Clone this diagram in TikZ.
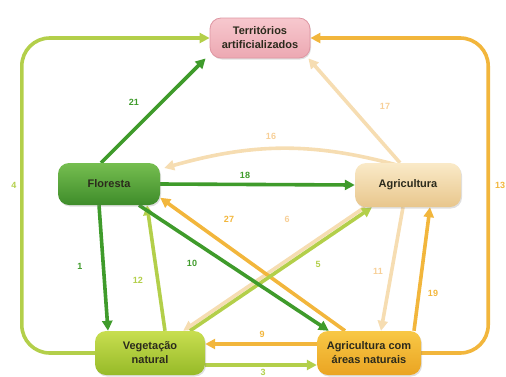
\documentclass[tikz,border=0pt]{standalone}
\usepackage{fontspec}
\setmainfont{Liberation Sans}
\usetikzlibrary{arrows.meta,shadows,backgrounds,calc}
\definecolor{dkgreen}{HTML}{3F9B2B}
\definecolor{ltgreen}{HTML}{B3CF4A}
\definecolor{orng}{HTML}{F2B63C}
\definecolor{beige}{HTML}{F6DDB2}
\definecolor{txt}{HTML}{2B2A1C}
\tikzset{
  box/.style={rounded corners=11pt, align=center, font=\fontsize{11}{14}\selectfont\bfseries, text=txt,
    inner sep=2pt, drop shadow={opacity=0.25, shadow xshift=1pt, shadow yshift=-1.5pt}},
  conn/.style={draw=#1, line width=3.6pt, -{Triangle[length=10pt,width=10pt]}},
  lbl/.style={text=#1, font=\fontsize{9}{10}\selectfont\bfseries, inner sep=0pt},
}
\begin{document}
\begin{tikzpicture}[x=1pt,y=-1pt]
\useasboundingbox (0,0) rectangle (506,376);
% nodes
\node[box, minimum width=100, minimum height=40,
  draw={rgb,255:red,222;green,150;blue,162}, line width=0.8pt, top color={rgb,255:red,247;green,200;blue,206}, bottom color={rgb,255:red,236;green,168;blue,178}]
  (terr) at (260,38) {Territórios\\artificializados};
\node[box, minimum width=102, minimum height=42, top color={rgb,255:red,118;green,190;blue,80}, bottom color={rgb,255:red,62;green,140;blue,42}]
  (flor) at (109,184) {Floresta};
\node[box, minimum width=106, minimum height=44, top color={rgb,255:red,250;green,234;blue,200}, bottom color={rgb,255:red,232;green,198;blue,140}]
  (agr) at (408,185) {Agricultura};
\node[box, minimum width=110, minimum height=44, top color={rgb,255:red,200;green,222;blue,80}, bottom color={rgb,255:red,150;green,186;blue,40}]
  (veg) at (150,353) {Vegetação\\natural};
\node[box, minimum width=104, minimum height=44, top color={rgb,255:red,248;green,200;blue,70}, bottom color={rgb,255:red,234;green,164;blue,34}]
  (agn) at (369,353) {Agricultura com\\áreas naturais};
% connectors
\begin{scope}[on background layer]
\draw[conn=ltgreen, rounded corners=28pt] (veg.west) -- ++(-73,0) |- (terr.west);
\draw[conn=orng, rounded corners=28pt] (agn.east) -- ++(67,0) |- (terr.east);
\draw[conn=beige] ([xshift=-8]agr.north) -- ([xshift=-2]terr.south east);
\draw[conn=beige] ([xshift=-50,yshift=16]agr.east) to[bend right=16] ([xshift=4,yshift=16]flor.east);
\draw[conn=beige] ([xshift=10]agr.south west) -- ([xshift=-22]veg.north east);
\draw[conn=beige] ([xshift=-5]agr.south) -- ([xshift=12]agn.north);
\draw[conn=orng] ([xshift=-24]agn.north) -- (flor.-15);
\draw[conn=orng] ([xshift=45]agn.north) -- ([xshift=22]agr.south);
\draw[conn=orng] ([yshift=9]agn.west) -- ([yshift=9]veg.east);
\draw[conn=ltgreen] ([xshift=40]veg.north) -- ([xshift=-36]agr.south);
\draw[conn=ltgreen] ([xshift=15]veg.north) -- ([xshift=38]flor.south);
\draw[conn=ltgreen] ([yshift=-12]veg.east) -- ([yshift=-12]agn.west);
\draw[conn=dkgreen] ([xshift=-8]flor.north) -- ([xshift=-4]terr.south west);
\draw[conn=dkgreen] (flor.east) -- (agr.west);
\draw[conn=dkgreen] ([xshift=30]flor.south) -- ([xshift=12]agn.north west);
\draw[conn=dkgreen] ([xshift=-10]flor.south) -- ([xshift=-42]veg.north);
\end{scope}
% labels
\node[lbl=dkgreen] (l21) at (134,102) {21};
\node[lbl=beige!85!orange] (l17) at (385,106) {17};
\node[lbl=beige!85!orange] (l16) at (271,136) {16};
\node[lbl=dkgreen] (l18) at (245,175) {18};
\node[lbl=ltgreen] (l4) at (14,185) {4};
\node[lbl=orng] (l13) at (500,185) {13};
\node[lbl=orng] (l27) at (229,219) {27};
\node[lbl=beige!85!orange] (l6) at (287,219) {6};
\node[lbl=dkgreen] (l1) at (80,266) {1};
\node[lbl=dkgreen] (l10) at (192,263) {10};
\node[lbl=ltgreen] (l5) at (318,264) {5};
\node[lbl=ltgreen] (l12) at (138,280) {12};
\node[lbl=beige!85!orange] (l11) at (378,271) {11};
\node[lbl=orng] (l19) at (433,293) {19};
\node[lbl=orng] (l9) at (262,334) {9};
\node[lbl=ltgreen] (l3) at (263,372) {3};
\end{tikzpicture}
\end{document}
